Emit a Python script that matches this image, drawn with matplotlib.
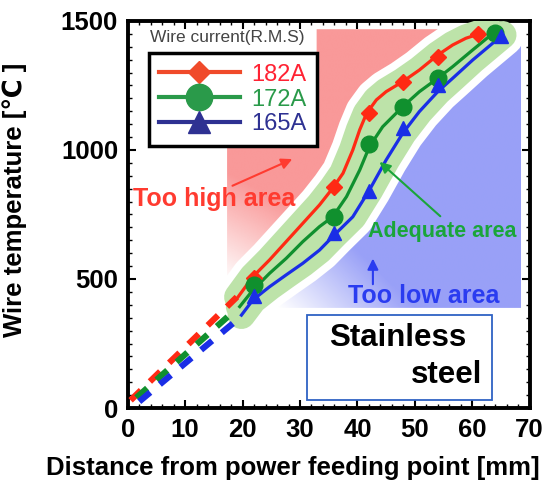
import numpy as np
import matplotlib
matplotlib.use("Agg")
import matplotlib.pyplot as plt
import matplotlib.transforms as mtransforms
from matplotlib.patches import Polygon, Rectangle
from matplotlib.lines import Line2D
from matplotlib.ticker import MultipleLocator

plt.rcParams['font.family'] = ['Liberation Sans', 'DejaVu Sans']

# measured wire temperature [degC] vs distance [mm]
x182 = [22, 36, 42, 48, 54, 61]
t182 = [505, 855, 1145, 1265, 1360, 1450]
x172 = [22, 36, 42, 48, 54, 64]
t172 = [475, 740, 1025, 1165, 1280, 1455]
x165 = [22, 36, 42, 48, 54, 65]
t165 = [435, 680, 840, 1085, 1250, 1440]

# fitted curves
cx182 = [19.2, 21.8, 24.7, 27.6, 30.5, 33.4, 35.7, 37.5, 39.2, 40.4, 41.6, 43.3, 45, 47.9, 50.8, 54, 56.6, 58.9, 61.9]
cy182 = [430, 509, 574, 645, 716, 787, 852, 910, 1000, 1078, 1142, 1194, 1226, 1265, 1310, 1368, 1407, 1433, 1455]
cx172 = [19.5, 21.8, 24.7, 27.6, 30.5, 33.4, 35.7, 38.1, 40.4, 42.1, 44.4, 47.9, 50.8, 54, 56.6, 60.1, 63.6]
cy172 = [393, 457, 522, 580, 645, 703, 741, 819, 922, 1013, 1090, 1168, 1226, 1278, 1323, 1388, 1452]
cx165 = [19.8, 21.8, 24.7, 27.6, 30.5, 33.4, 36, 39.2, 42.1, 45, 47.9, 50.8, 54, 56.6, 60.1, 65.3]
cy165 = [360, 419, 470, 516, 561, 612, 671, 741, 845, 961, 1065, 1149, 1226, 1278, 1349, 1446]

# extrapolation toward the feeding point (dashed)
ex182, ey182 = [0.5, 19], [30, 430]
ex172, ey172 = [1.5, 19], [40, 385]
ex165, ey165 = [2, 19.5], [25, 350]

# shaded areas (corners)
high_corners = [(60, 1468), (32.9, 1468), (32.9, 1012), (17.3, 1012), (17.3, 380)]
low_corners = [(68.5, 1435), (68.5, 388), (24, 388)]

labels = ['182A', '172A', '165A']

red = '#ff2a14'
green = '#10902e'
blue = '#1a2ee6'

fig = plt.figure(figsize=(5.46, 4.82), dpi=100)
ax = fig.add_axes([0.234, 0.1535, 0.736, 0.803])

xs = np.linspace(0, 70, 400)
ys = np.linspace(0, 1500, 400)
X, Y = np.meshgrid(xs, ys)


def shade(poly, rgb, alpha):
    img = np.zeros(X.shape + (4,))
    img[..., 0], img[..., 1], img[..., 2] = rgb
    img[..., 3] = np.clip(alpha, 0, 1)
    im = ax.imshow(img, extent=(0, 70, 0, 1500), origin='lower',
                   aspect='auto', zorder=1, interpolation='bilinear')
    p = Polygon(poly, closed=True, facecolor='none', edgecolor='none')
    ax.add_patch(p)
    im.set_clip_path(p)


# too high area: pink, fading toward lower left
edge = [pt for pt in zip(cx172, cy172) if pt[0] <= 60]
shade(high_corners + edge, (0.98, 0.60, 0.60), (Y - 480) / 430 + (X - 17.3) / 35)

# too low area: blue, fading toward lower left
shade(list(zip(cx172, cy172)) + low_corners, (0.60, 0.63, 0.97),
      (X - 26) / 24 + (Y - 390) / 520)

# adequate band
for cx, cy in [(cx182, cy182), (cx165, cy165)]:
    ax.plot(cx, cy, color='white', lw=31, solid_capstyle='round', zorder=2)
for cx, cy in [(cx182, cy182), (cx172, cy172), (cx165, cy165)]:
    ax.plot(cx, cy, color='#bde3a9', lw=20, solid_capstyle='round', zorder=3)

# dashed extrapolations
for ex, ey, c in [(ex182, ey182, red), (ex172, ey172, green), (ex165, ey165, blue)]:
    ax.plot(ex, ey, color=c, lw=4.5, dashes=(2.3, 2.0), zorder=4)

# fitted curves and measured points
ax.plot(cx182, cy182, color=red, lw=2.3, zorder=5)
ax.plot(cx172, cy172, color=green, lw=2.3, zorder=5)
ax.plot(cx165, cy165, color=blue, lw=2.3, zorder=5)
ax.plot(x182, t182, 'D', color=red, ms=8, zorder=6)
ax.plot(x172, t172, 'o', color=green, ms=12, zorder=6)
ax.plot(x165, t165, '^', color=blue, ms=10, zorder=6)

# annotations
ax.text(15.0, 810, 'Too high area', color='#ff3b30', fontsize=18,
        fontweight='bold', ha='center', va='center', zorder=7)
ax.annotate('', xy=(29.1, 969), xytext=(17.8, 857),
            arrowprops=dict(arrowstyle='-|>', color='#ff3b30', lw=1.5,
                            mutation_scale=16), zorder=7)
ax.text(54.8, 686, 'Adequate area', color='#1aa53a', fontsize=15.5,
        fontweight='bold', ha='center', va='center', zorder=7)
ax.annotate('', xy=(43.5, 961), xytext=(54.8, 736),
            arrowprops=dict(arrowstyle='-|>', color='#1aa53a', lw=1.5,
                            mutation_scale=16), zorder=7)
ax.text(51.5, 434, 'Too low area', color='#2a3cf0', fontsize=18,
        fontweight='bold', ha='center', va='center', zorder=7)
ax.annotate('', xy=(42.7, 590), xytext=(42.7, 469),
            arrowprops=dict(arrowstyle='-|>', color='#2a3cf0', lw=1.5,
                            mutation_scale=16), zorder=7)

ax.add_patch(Rectangle((31.3, 31), 32.2, 329, facecolor='white',
                       edgecolor='#2f62c4', lw=1.3, zorder=7))
ax.text(35.0, 271, 'Stainless', fontsize=22.5, fontweight='bold',
        ha='left', va='center', zorder=8)
ax.text(61.8, 128, 'steel', fontsize=22.5, fontweight='bold',
        ha='right', va='center', zorder=8)

# legend
handles = [
    Line2D([], [], color='#f04a2a', lw=3, marker='D', ms=11),
    Line2D([], [], color='#2a9a4a', lw=3, marker='o', ms=19),
    Line2D([], [], color='#2e3192', lw=3, marker='^', ms=16),
]
leg = ax.legend(handles, labels, loc='upper left', bbox_to_anchor=(0.052, 0.917),
                borderaxespad=0, fancybox=False, framealpha=1,
                prop={'size': 17}, handlelength=3.4, handletextpad=0.5,
                labelspacing=0.12, borderpad=0.45)
leg.get_frame().set_edgecolor('black')
leg.get_frame().set_linewidth(2.5)
leg.set_zorder(9)
for txt, c in zip(leg.get_texts(), ['#ff2233', '#2a9a4a', '#2e3192']):
    txt.set_color(c)
ax.text(3.8, 0.958, 'Wire current(R.M.S)',
        transform=mtransforms.blended_transform_factory(ax.transData, ax.transAxes),
        fontsize=12.5, color='#444444', ha='left', va='center', zorder=9)

ax.set_xlim(0, 70)
ax.set_ylim(0, 1500)
ax.xaxis.set_major_locator(MultipleLocator(10))
ax.xaxis.set_minor_locator(MultipleLocator(2))
ax.yaxis.set_major_locator(MultipleLocator(500))
ax.yaxis.set_minor_locator(MultipleLocator(50))
ax.tick_params(which='both', direction='in', top=True, right=True)
ax.tick_params(which='major', length=6, width=1.5, labelsize=18.5, pad=7)
ax.tick_params(which='minor', length=3, width=1)
for lbl in ax.get_xticklabels() + ax.get_yticklabels():
    lbl.set_fontweight('bold')
for s in ax.spines.values():
    s.set_linewidth(2.8)

ax.set_xlabel('Distance from power feeding point [mm]', fontsize=18.5, fontweight='bold')
ax.xaxis.set_label_coords(0.41, -0.125)
ax.set_ylabel('Wire temperature [\u2103 ]', fontsize=18.5, fontweight='bold')
ax.yaxis.set_label_coords(-0.25, 0.537)

fig.savefig('out.png', dpi=100)
